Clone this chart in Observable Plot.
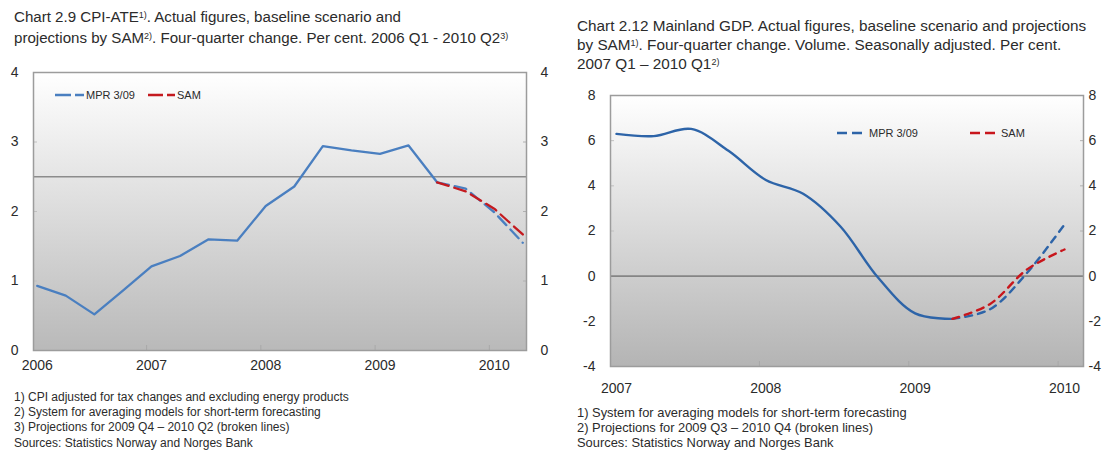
<!DOCTYPE html>
<html><head><meta charset="utf-8">
<script src="https://cdn.jsdelivr.net/npm/d3@7"></script>
<script src="https://cdn.jsdelivr.net/npm/@observablehq/plot@0.6"></script>
<style>
html,body{margin:0;padding:0;background:#fff;}
#wrap{position:relative;width:1108px;height:452px;overflow:hidden;font-family:"Liberation Sans",Arial,sans-serif;color:#2b2b2b;}
.title{position:absolute;white-space:nowrap;}
.note{position:absolute;line-height:15.4px;white-space:nowrap;}
sup{font-size:9px;line-height:0;vertical-align:0.42em;}
.chart{position:absolute;top:0;}
.chart svg{overflow:visible;}
.lg{position:absolute;font-size:11px;white-space:nowrap;line-height:14px;}
</style></head>
<body><div id="wrap">
<div class="title" style="left:14px;top:6px;line-height:21px;font-size:15.1px">Chart 2.9 CPI-ATE<sup>1)</sup>. Actual figures, baseline scenario and<br>projections by SAM<sup>2)</sup>. Four-quarter change. Per cent. 2006 Q1 - 2010 Q2<sup>3)</sup></div>
<div class="title" style="left:577px;top:16px;line-height:19px;font-size:15.3px">Chart 2.12 Mainland GDP. Actual figures, baseline scenario and projections<br>by SAM<sup>1)</sup>. Four-quarter change. Volume. Seasonally adjusted. Per cent.<br>2007 Q1 – 2010 Q1<sup>2)</sup></div>
<div id="left" class="chart" style="left:0"></div>
<div id="right" class="chart" style="left:560px"></div>
<div class="note" style="left:14px;top:389.5px;font-size:12px">1) CPI adjusted for tax changes and excluding energy products<br>2) System for averaging models for short-term forecasting<br>3) Projections for 2009 Q4 – 2010 Q2 (broken lines)<br>Sources: Statistics Norway and Norges Bank</div>
<div class="note" style="left:577px;top:404.5px;font-size:12.9px">1) System for averaging models for short-term forecasting<br>2) Projections for 2009 Q3 – 2010 Q4 (broken lines)<br>Sources: Statistics Norway and Norges Bank</div>
</div>
<script>
// ---------- Data: Chart 2.9 CPI-ATE ----------
const cpiQuarters = ["2006 Q1","2006 Q2","2006 Q3","2006 Q4","2007 Q1","2007 Q2","2007 Q3","2007 Q4",
  "2008 Q1","2008 Q2","2008 Q3","2008 Q4","2009 Q1","2009 Q2","2009 Q3","2009 Q4","2010 Q1","2010 Q2"];
const cpiActual = [0.93, 0.79, 0.52, 0.86, 1.21, 1.36, 1.60, 1.58, 2.08, 2.36, 2.94, 2.88, 2.83, 2.95, 2.42];
const cpiProjStart = "2009 Q3";
const cpiMPR = [2.42, 2.33, 1.99, 1.55];
const cpiSAM = [2.42, 2.29, 2.04, 1.67];
const cpiTarget = [2.5];
const cpiYTicks = [0, 1, 2, 3, 4];
const cpiYears = ["2006", "2007", "2008", "2009", "2010"];

// ---------- Data: Chart 2.12 Mainland GDP ----------
const gdpQuarters = ["2007 Q1","2007 Q2","2007 Q3","2007 Q4","2008 Q1","2008 Q2","2008 Q3","2008 Q4",
  "2009 Q1","2009 Q2","2009 Q3","2009 Q4","2010 Q1"];
const gdpActual = [6.30, 6.20, 6.52, 5.55, 4.26, 3.65, 2.20, -0.05, -1.65, -1.89];
const gdpProjStart = "2009 Q2";
const gdpMPR = [-1.89, -1.47, 0.15, 2.29];
const gdpSAM = [-1.89, -1.24, 0.30, 1.18];
const gdpZero = [0];
const gdpYTicks = [-4, -2, 0, 2, 4, 6, 8];
const gdpYears = ["2007", "2008", "2009", "2010"];

const seriesNames = ["MPR 3/09", "SAM"];

function series(quarters, values, start) {
  const s = start ? quarters.indexOf(start) : 0;
  return values.map((v, k) => ({i: s + k, q: quarters[s + k], v}));
}
function addGradient(svg, id, top, bottom) {
  const ns = "http://www.w3.org/2000/svg";
  const defs = document.createElementNS(ns, "defs");
  const g = document.createElementNS(ns, "linearGradient");
  g.setAttribute("id", id); g.setAttribute("x1", "0"); g.setAttribute("y1", "0");
  g.setAttribute("x2", "0"); g.setAttribute("y2", "1");
  [[0, top], [1, bottom]].forEach(([o, c]) => {
    const st = document.createElementNS(ns, "stop");
    st.setAttribute("offset", o); st.setAttribute("stop-color", c);
    g.appendChild(st);
  });
  defs.appendChild(g);
  svg.insertBefore(defs, svg.firstChild);
}
function legend(host, items) {
  items.forEach(it => {
    const d = document.createElement("div");
    d.className = "lg";
    d.style.left = it.x + "px"; d.style.top = (it.y - 7) + "px";
    d.innerHTML = `<svg width="${it.w}" height="14" style="vertical-align:top"><line x1="0" x2="${it.w}" y1="7" y2="7" stroke="${it.color}" stroke-width="2.4" stroke-dasharray="${it.dash}"/></svg><span style="margin-left:${it.gap}px">${it.label}</span>`;
    host.appendChild(d);
  });
}
const font = {fontFamily: "'Liberation Sans', Arial, sans-serif", fontSize: "14px", color: "#2b2b2b", background: "transparent", overflow: "visible"};

// ---------- Left chart ----------
{
  const actual = series(cpiQuarters, cpiActual);
  const mpr = series(cpiQuarters, cpiMPR, cpiProjStart);
  const sam = series(cpiQuarters, cpiSAM, cpiProjStart);
  const labelPos = cpiYears.map(y => cpiQuarters.indexOf(y + " Q1"));
  const tickPos = labelPos.slice(1).map(i => i - 0.17);
  const blue = "#4a7fc0", red = "#c41a1f";
  const svg = Plot.plot({
    width: 560, height: 380,
    marginLeft: 33, marginRight: 34, marginTop: 72, marginBottom: 30,
    style: font,
    x: {domain: [-0.13, 17.13], label: null},
    y: {domain: [0, 4], label: null},
    marks: [
      Plot.frame({fill: "url(#bgL)", stroke: "none"}),
      Plot.ruleY(cpiTarget, {stroke: "#8c8c8c", strokeWidth: 1.6}),
      Plot.axisX({anchor: "bottom", ticks: tickPos, tickSize: -5, tickFormat: () => "", stroke: "#a8a8a8", label: null}),
      Plot.axisY({anchor: "left", ticks: [1, 2, 3], tickSize: -4, tickFormat: () => "", stroke: "#c0c0c0", label: null}),
      Plot.axisY({anchor: "right", ticks: [1, 2, 3], tickSize: -4, tickFormat: () => "", stroke: "#b0b0b0", label: null}),
      Plot.frame({stroke: "#9c9c9c", strokeWidth: 1.5}),
      Plot.axisY({anchor: "left", ticks: cpiYTicks, tickSize: 0, tickPadding: 15, tickFormat: d => String(d), label: null}),
      Plot.axisY({anchor: "right", ticks: cpiYTicks, tickSize: 0, tickPadding: 14, tickFormat: d => String(d), label: null}),
      Plot.axisX({anchor: "bottom", ticks: labelPos, tickSize: 0, tickPadding: 10, tickFormat: i => cpiQuarters[i].slice(0, 4), label: null}),
      Plot.line(actual, {x: "i", y: "v", stroke: blue, strokeWidth: 2.3}),
      Plot.line(mpr, {x: "i", y: "v", stroke: blue, strokeWidth: 2.3, strokeDasharray: "12,6"}),
      Plot.line(sam, {x: "i", y: "v", stroke: red, strokeWidth: 2.3, strokeDasharray: "12,6"})
    ]
  });
  addGradient(svg, "bgL", "#ffffff", "#b9b9b9");
  document.getElementById("left").appendChild(svg);
  legend(document.getElementById("wrap"), [
    {x: 55, y: 95, w: 29, color: blue, dash: "16,4,9", label: seriesNames[0], gap: 2},
    {x: 148, y: 95, w: 27, color: red, dash: "15,4,8", label: seriesNames[1], gap: 2}
  ]);
}

// ---------- Right chart ----------
{
  const actual = series(gdpQuarters, gdpActual);
  const mpr = series(gdpQuarters, gdpMPR, gdpProjStart);
  const sam = series(gdpQuarters, gdpSAM, gdpProjStart);
  const labelPos = gdpYears.map(y => gdpQuarters.indexOf(y + " Q1"));
  const tickPos = labelPos.slice(1).map(i => i - 0.17);
  const blue = "#2d64a8", red = "#c8161c";
  const svg = Plot.plot({
    width: 548, height: 400,
    marginLeft: 50, marginRight: 25, marginTop: 95, marginBottom: 34,
    style: font,
    x: {domain: [-0.16, 12.51], label: null},
    y: {domain: [-4, 8], label: null},
    marks: [
      Plot.frame({fill: "url(#bgR)", stroke: "none"}),
      Plot.ruleY(gdpZero, {stroke: "#858585", strokeWidth: 1.6}),
      Plot.axisX({anchor: "bottom", ticks: tickPos, tickSize: -5, tickFormat: () => "", stroke: "#a8a8a8", label: null}),
      Plot.axisY({anchor: "left", ticks: [2, 4, 6], tickSize: -4, tickFormat: () => "", stroke: "#c0c0c0", label: null}),
      Plot.axisY({anchor: "right", ticks: [2, 4, 6], tickSize: -4, tickFormat: () => "", stroke: "#b0b0b0", label: null}),
      Plot.frame({stroke: "#9c9c9c", strokeWidth: 1.5}),
      Plot.axisY({anchor: "left", ticks: gdpYTicks, tickSize: 0, tickPadding: 15, tickFormat: d => String(d), label: null}),
      Plot.axisY({anchor: "right", ticks: gdpYTicks, tickSize: 0, tickPadding: 5, tickFormat: d => String(d), label: null}),
      Plot.axisX({anchor: "bottom", ticks: labelPos, tickSize: 0, tickPadding: 17, tickFormat: i => gdpQuarters[i].slice(0, 4), label: null}),
      Plot.line(actual, {x: "i", y: "v", stroke: blue, strokeWidth: 2.4, curve: "catmull-rom"}),
      Plot.line(mpr, {x: "i", y: "v", stroke: blue, strokeWidth: 2.4, strokeDasharray: "7,6", curve: "catmull-rom"}),
      Plot.line(sam, {x: "i", y: "v", stroke: red, strokeWidth: 2.4, strokeDasharray: "7,6", curve: "catmull-rom"})
    ]
  });
  addGradient(svg, "bgR", "#ffffff", "#b4b4b4");
  document.getElementById("right").appendChild(svg);
  legend(document.getElementById("wrap"), [
    {x: 837, y: 133, w: 26, color: blue, dash: "10,5", label: seriesNames[0], gap: 6},
    {x: 970, y: 133, w: 26, color: red, dash: "10,5", label: seriesNames[1], gap: 5}
  ]);
}
</script>
</body></html>
